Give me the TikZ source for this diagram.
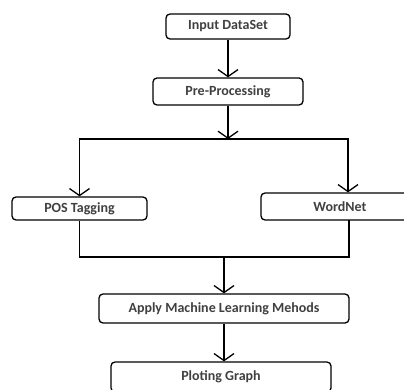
\documentclass[tikz,border=0pt]{standalone}
\usepackage{fontspec}
\setmainfont{Carlito}
\usetikzlibrary{arrows.meta}
\begin{document}
\begin{tikzpicture}[x=1pt,y=-1pt,
  box/.style={draw=black,line width=1.3pt,rounded corners=4pt,inner sep=0pt,
    font=\fontsize{14}{16}\selectfont\bfseries,text=black!75},
  link/.style={draw=black,line width=1.5pt},
  arr/.style={link,-{Straight Barb[length=7pt,width=20pt,line width=1.3pt]}}]
\useasboundingbox (0,0) rectangle (404,390);
\node[box,minimum width=124pt,minimum height=25pt] (in) at (228,26.5) {Input DataSet};
\node[box,minimum width=150pt,minimum height=27pt] (pre) at (228,91.5) {Pre-Processing};
\node[box,minimum width=135pt,minimum height=23pt] (pos) at (79.5,208.5) {POS Tagging};
\node[box,minimum width=158pt,minimum height=27pt] (wn) at (340,206.5) {WordNet};
\node[box,minimum width=250pt,minimum height=29pt] (ml) at (224,308.5) {Apply Machine Learning Mehods};
\node[box,minimum width=220pt,minimum height=30pt] (pg) at (221,377) {Ploting Graph};
\coordinate (j1) at (228,139);
\coordinate (wt) at (348,139);
\coordinate (wb) at (349,220);
\coordinate (j2) at (224,257);
\draw[arr] (in.south) -- (pre.north);
\draw[arr] (pre.south) -- (j1);
\draw[arr] (j1) -| (pos.north);
\draw[arr] (j1) -- (wt) -- (wn.north -| wt);
\draw[link] (pos.south) |- (j2);
\draw[link] (wb) |- (j2);
\draw[arr] (j2) -- (ml.north);
\draw[arr] (ml.south) -- (pg.north -| ml.south);
\end{tikzpicture}
\end{document}
